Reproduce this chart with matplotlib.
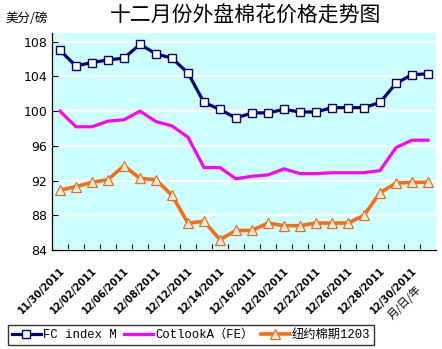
import matplotlib
matplotlib.use('Agg')
import matplotlib.pyplot as plt

plt.rcParams['font.family'] = ['Noto Sans CJK SC', 'DejaVu Sans']

# 24 trading days, labels only on every second one
dates = ['11/30/2011', '12/01/2011', '12/02/2011', '12/05/2011', '12/06/2011', '12/07/2011',
         '12/08/2011', '12/09/2011', '12/12/2011', '12/13/2011', '12/14/2011', '12/15/2011',
         '12/16/2011', '12/19/2011', '12/20/2011', '12/21/2011', '12/22/2011', '12/23/2011',
         '12/26/2011', '12/27/2011', '12/28/2011', '12/29/2011', '12/30/2011', '12/31/2011']
fc_index = [107.0, 105.2, 105.6, 105.9, 106.1, 107.7, 106.6, 106.1, 104.4, 101.0, 100.2, 99.2,
            99.8, 99.8, 100.2, 99.9, 99.9, 100.4, 100.4, 100.4, 101.0, 103.2, 104.2, 104.3]
cotlook = [100.0, 98.2, 98.2, 98.85, 99.0, 100.0, 98.8, 98.3, 97.0, 93.5, 93.5, 92.2,
           92.5, 92.65, 93.35, 92.8, 92.8, 92.9, 92.9, 92.9, 93.15, 95.8, 96.65, 96.65]
nybot = [90.9, 91.3, 91.8, 92.1, 93.7, 92.25, 92.1, 90.3, 87.1, 87.3, 85.2, 86.25,
         86.25, 87.1, 86.8, 86.8, 87.1, 87.1, 87.1, 88.0, 90.6, 91.7, 91.8, 91.8]
y_ticks = [84, 88, 92, 96, 100, 104, 108]

fig = plt.figure(figsize=(4.42, 3.49), dpi=100)
ax = fig.add_axes([0.1176, 0.2837, 0.8688, 0.6217])
ax.set_facecolor('#ccffff')

x = list(range(len(dates)))
ax.plot(x, fc_index, color='#000080', lw=2.3, marker='s', ms=6,
        mfc='white', mec='#000080', mew=1.0, label='FC index M', zorder=4)
ax.plot(x, cotlook, color='#ff00ff', lw=2.3, label='CotlookA（FE）', zorder=3)
ax.plot(x, nybot, color='#ff6a10', lw=2.6, marker='^', ms=7,
        mfc='#fff0dc', mec='#e87020', mew=0.9, label='纽约棉期1203', zorder=3)

ax.set_xlim(-0.5, len(dates) - 0.5)
ax.set_ylim(84, 109)
ax.set_yticks(y_ticks)
ax.set_yticklabels([str(v) for v in y_ticks], fontsize=9, family='DejaVu Sans')
ax.yaxis.grid(True, color='white', lw=1.6)
ax.set_axisbelow(True)

ax.set_xticks([i + 0.5 for i in x[:-1]], minor=True)
ax.set_xticks(x[::2])
ax.set_xticklabels(dates[::2], rotation=45, ha='right', rotation_mode='anchor',
                   fontsize=7, fontweight='bold', family='DejaVu Sans')
ax.tick_params(axis='x', which='major', length=0, pad=11)
ax.tick_params(axis='x', which='minor', direction='in', length=4, width=0.8)
ax.tick_params(axis='y', direction='in', length=4, width=0.8)

for s in ['top', 'right']:
    ax.spines[s].set_visible(False)
for s in ['left', 'bottom']:
    ax.spines[s].set_linewidth(0.9)

fig.text(0.555, 0.955, '十二月份外盘棉花价格走势图', ha='center', va='center', fontsize=15)
fig.text(0.012, 0.948, '美分/磅', ha='left', va='center', fontsize=9)
fig.text(0.916, 0.135, '月/日/年', ha='center', va='center', rotation=45, fontsize=8)

leg = fig.legend(loc='lower left', bbox_to_anchor=(0.018, 0.012), ncol=3, fontsize=8.8,
                 frameon=True, fancybox=False, edgecolor='black', handlelength=2.4,
                 handletextpad=0.15, columnspacing=0.6, borderpad=0.3, borderaxespad=0)
leg.get_frame().set_linewidth(1.0)
for t in leg.get_texts():
    t.set_family(['Liberation Mono', 'Noto Sans CJK SC'])

fig.savefig('out.png', dpi=100)
